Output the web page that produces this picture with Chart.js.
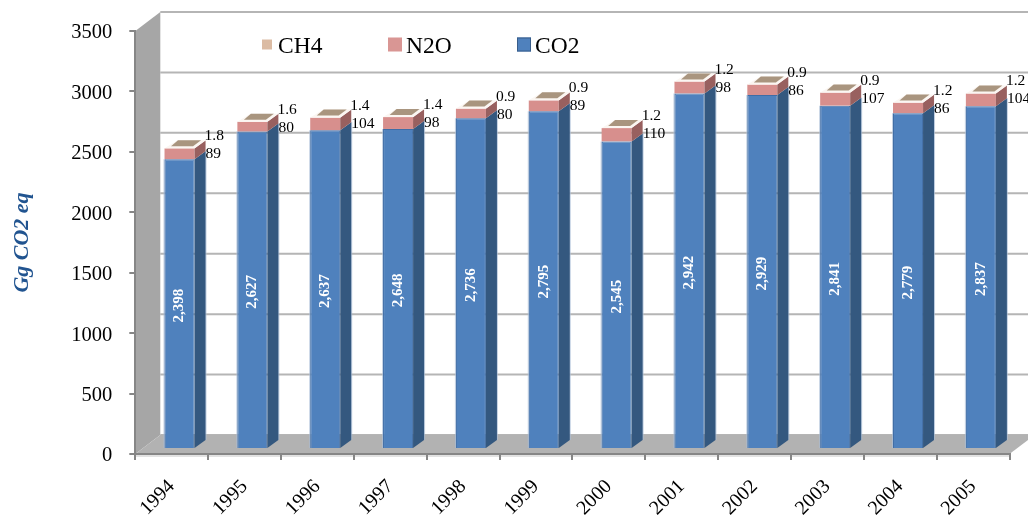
<!DOCTYPE html>
<html>
<head>
<meta charset="utf-8">
<style>
  html, body { margin: 0; padding: 0; background: #fff; }
  #wrap { width: 1028px; height: 523px; }
</style>
<script src="https://cdn.jsdelivr.net/npm/chart.js@4"></script>
</head>
<body>
<div id="wrap"><canvas id="chart" width="1028" height="523"></canvas></div>
<script>
const years = ["1994","1995","1996","1997","1998","1999","2000","2001","2002","2003","2004","2005"];
const co2 = [2398,2627,2637,2648,2736,2795,2545,2942,2929,2841,2779,2837];
const n2o = [89,80,104,98,80,89,110,98,86,107,86,104];
const ch4 = [1.8,1.6,1.4,1.4,0.9,0.9,1.2,1.2,0.9,0.9,1.2,1.2];

const serif = "'Liberation Serif', 'Times New Roman', serif";

// fake 3d: the bars stand a bit inside the floor, the back wall is further back
const barDx = 7.8, barDy = -5;
const depthX = 11, depthY = 8;
const wallDx = 25, wallDy = -19;

function poly(ctx, pts, fill) {
  ctx.beginPath();
  pts.forEach((p, i) => i ? ctx.lineTo(p[0], p[1]) : ctx.moveTo(p[0], p[1]));
  ctx.closePath();
  ctx.fillStyle = fill;
  ctx.fill();
}

const room = {
  id: "room",
  beforeDraw(chart) {
    const { ctx, chartArea: a, scales } = chart;
    ctx.save();
    // strip under the floor
    ctx.fillStyle = "#e2e2e2";
    ctx.fillRect(a.left, a.bottom, a.right - a.left, 3);
    // back grid
    ctx.strokeStyle = "#b5b5b5";
    ctx.lineWidth = 2;
    scales.y.ticks.forEach(t => {
      const y = scales.y.getPixelForValue(t.value) + wallDy;
      ctx.beginPath();
      ctx.moveTo(a.left + wallDx, y);
      ctx.lineTo(a.right + wallDx, y);
      ctx.stroke();
    });
    // left wall and floor
    poly(ctx, [[a.left, a.top], [a.left + wallDx, a.top + wallDy], [a.left + wallDx, a.bottom + wallDy], [a.left, a.bottom]], "#a6a6a6");
    poly(ctx, [[a.left, a.bottom], [a.left + wallDx, a.bottom + wallDy], [a.right + wallDx, a.bottom + wallDy], [a.right, a.bottom]], "#b2b2b2");
    ctx.restore();
    legend3d(chart);
  },
  beforeDatasetsDraw(chart) {
    const ctx = chart.ctx;
    // pale halo round each bar
    const co2Bars = chart.getDatasetMeta(0).data;
    ctx.save();
    ctx.strokeStyle = "rgba(170,190,215,0.7)";
    ctx.lineWidth = 2;
    co2Bars.forEach(b => {
      const left = b.x - b.width / 2 + barDx, right = b.x + b.width / 2 + barDx + depthX;
      const base = b.base + barDy;
      ctx.beginPath();
      ctx.moveTo(left, b.y + barDy);
      ctx.lineTo(left, base);
      ctx.moveTo(right, b.y + barDy - depthY);
      ctx.lineTo(right, base - depthY);
      ctx.stroke();
    });
    ctx.restore();
    ctx.save();
    ctx.translate(barDx, barDy);
  },
  afterDatasetsDraw(chart) {
    const ctx = chart.ctx;
    ctx.restore();
    const co2Bars = chart.getDatasetMeta(0).data;
    const n2oBars = chart.getDatasetMeta(1).data;
    const ch4Bars = chart.getDatasetMeta(2).data;
    years.forEach((yr, i) => {
      const b = co2Bars[i], n = n2oBars[i], c = ch4Bars[i];
      const left = b.x - b.width / 2 + barDx, right = b.x + b.width / 2 + barDx;
      const base = b.base + barDy, co2Top = b.y + barDy, n2oTop = n.y + barDy, top = c.y + barDy;
      // side faces
      poly(ctx, [[right, co2Top], [right + depthX, co2Top - depthY], [right + depthX, base - depthY], [right, base]], "#34587f");
      poly(ctx, [[right, n2oTop], [right + depthX, n2oTop - depthY], [right + depthX, co2Top - depthY], [right, co2Top]], "#98605f");
      // top face, white rim with the brown lid inside
      poly(ctx, [[left, top], [left + 13, top - depthY], [right + depthX, top - depthY], [right, top]], "#fbf6f2");
      poly(ctx, [[left + 6.5, top - 2], [left + 13.5, top - depthY], [right + 6.5, top - depthY], [right - 1.5, top - 2]], "#a9957f");
      // value labels
      ctx.textBaseline = "middle";
      ctx.textAlign = "left";
      ctx.fillStyle = "#000";
      ctx.font = "15.5px " + serif;
      ctx.fillText(ch4[i].toFixed(1), right + 10, top - 12);
      ctx.fillText(String(n2o[i]), right + 11, top + 6);
      ctx.save();
      ctx.translate((left + right) / 2, (base + co2Top) / 2 + 2);
      ctx.rotate(-Math.PI / 2);
      ctx.textAlign = "center";
      ctx.fillStyle = "#fff";
      ctx.font = "bold 15px " + serif;
      ctx.fillText(co2[i].toLocaleString("en-US"), 0, 0);
      ctx.restore();
    });
  }
};

function legend3d(chart) {
  const ctx = chart.ctx;
  // dataset index, swatch x, swatch size, text x
  const spots = [[2, 262, 10, 278], [1, 388, 14, 406], [0, 517, 14, 535]];
  ctx.save();
  spots.forEach(s => {
    const ds = chart.data.datasets[s[0]];
    const y = 44.5 - s[2] / 2;
    ctx.fillStyle = ds.legendColor;
    ctx.fillRect(s[1], y, s[2], s[2]);
    if (ds.label === "CO2") {
      ctx.strokeStyle = "#385d8a";
      ctx.strokeRect(s[1] + .5, y + .5, s[2] - 1, s[2] - 1);
    }
    ctx.fillStyle = "#000";
    ctx.font = "23.5px " + serif;
    ctx.textBaseline = "alphabetic";
    ctx.textAlign = "left";
    ctx.fillText(ds.label, s[3], 53);
  });
  ctx.restore();
}

new Chart(document.getElementById("chart"), {
  type: "bar",
  plugins: [room],
  data: {
    labels: years,
    datasets: [
      { label: "CO2", data: co2, backgroundColor: "#4f81bd", borderColor: "#3f6da6", borderWidth: 1, legendColor: "#4f81bd", clip: false },
      { label: "N2O", data: n2o, backgroundColor: "#d78f8d", borderColor: "#d78f8d", borderWidth: 0, legendColor: "#d99694", clip: false },
      { label: "CH4", data: ch4, backgroundColor: "#fbf6f2", borderWidth: 0, legendColor: "#dbbba3", clip: false }
    ]
  },
  options: {
    responsive: false,
    animation: false,
    layout: { padding: { top: 31, right: 18.5, left: 0, bottom: 0 } },
    plugins: { legend: { display: false }, tooltip: { enabled: false } },
    datasets: { bar: { categoryPercentage: 1, barPercentage: 0.412 } },
    scales: {
      x: {
        stacked: true,
        afterFit(s) { s.height = 69; },
        border: { color: "#868686", width: 2 },
        grid: { drawOnChartArea: false, drawTicks: true, tickLength: 6, color: "#868686", lineWidth: 2 },
        ticks: { color: "#000", font: { family: serif, size: 20 }, minRotation: 45, maxRotation: 45, padding: 15, autoSkip: false }
      },
      y: {
        stacked: true,
        min: 0,
        max: 3500,
        afterFit(s) { s.width = 135.3; },
        border: { color: "#868686", width: 2 },
        grid: { drawOnChartArea: false, drawTicks: true, tickLength: 6, color: "#868686", lineWidth: 2 },
        ticks: { stepSize: 500, color: "#000", font: { family: serif, size: 20.5 }, padding: 17, labelOffset: 2, callback: v => String(v) },
        title: {
          display: true,
          text: "Gg CO2 eq",
          color: "#215490",
          padding: { top: 9, bottom: 0 },
          font: { family: serif, size: 22, weight: "bold", style: "italic" }
        }
      }
    }
  }
});
</script>
</body>
</html>
